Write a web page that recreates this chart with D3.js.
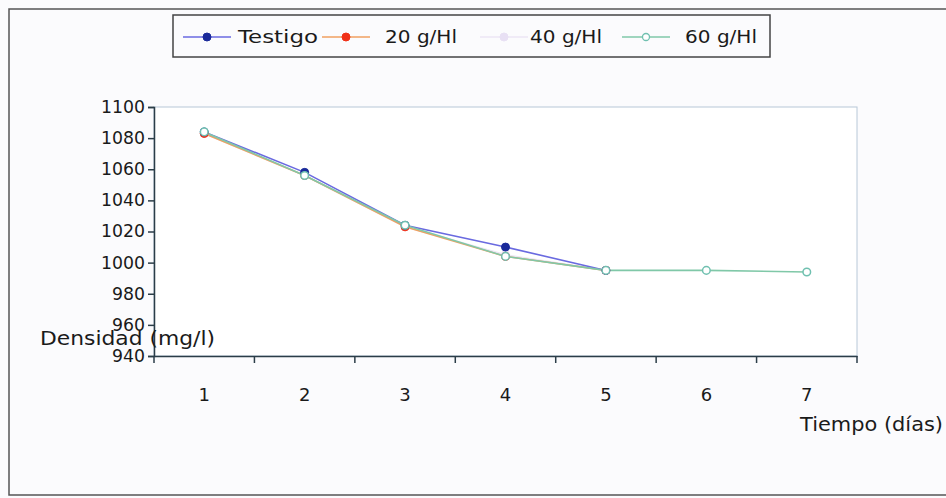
<!DOCTYPE html>
<html><head><meta charset="utf-8">
<script src="https://cdn.jsdelivr.net/npm/d3@7"></script>
<style>
body{margin:0;background:#fbfbfd;}
svg{display:block;}
text{font-family:"Comic Sans MS","DejaVu Sans",sans-serif;fill:#1a1a1a;}
</style></head>
<body><svg id="c" width="946" height="498"></svg>
<script>
const days = ["1","2","3","4","5","6","7"];
const seriesNames = ["Testigo","20 g/Hl","40 g/Hl","60 g/Hl"];
const testigo = [1084, 1058, 1024, 1010, 995];
const g20 = [1083, 1056, 1023, 1004, 995];
const g40 = [1083, 1056, 1023, 1005, 995];
const g60 = [1084, 1056, 1024, 1004, 995, 995, 994];
const yTicks = [940,960,980,1000,1020,1040,1060,1080,1100];

const svg = d3.select("#c");
const m = {l:154, t:107, r:857, b:356};

// outer frame
svg.append("rect").attr("x",9).attr("y",9).attr("width",945).attr("height",486)
  .attr("fill","#fbfbfd").attr("stroke","#555").attr("stroke-width",1.5);
// plot area
svg.append("rect").attr("x",m.l).attr("y",m.t).attr("width",m.r-m.l).attr("height",m.b-m.t)
  .attr("fill","#ffffff").attr("stroke","#b8c8d8").attr("stroke-width",1);

const x = d3.scaleBand().domain(days).range([m.l,m.r]);
const y = d3.scaleLinear().domain([940,1100]).range([m.b,m.t]);

// y axis
const ya = svg.append("g").attr("transform",`translate(${m.l},0)`)
  .call(d3.axisLeft(y).tickValues(yTicks).tickSize(6).tickPadding(3).tickFormat(d3.format("d")));
ya.select(".domain").attr("stroke","#2b3d48").attr("stroke-width",1.5);
ya.selectAll(".tick line").attr("stroke","#2b3d48").attr("stroke-width",1.5);
ya.selectAll("text").style("font-size","17px").attr("fill","#1a1a1a").attr("textLength",44).attr("lengthAdjust","spacingAndGlyphs");
ya.selectAll(".tick").filter(d=>d<1000).selectAll("text").attr("textLength",33);

// x axis
const xa = svg.append("g").attr("transform",`translate(0,${m.b})`)
  .call(d3.axisBottom(x).tickSize(0).tickPadding(32));
xa.select(".domain").attr("stroke","#2b3d48").attr("stroke-width",1.5);
xa.selectAll("text").style("font-size","18px").attr("fill","#1a1a1a");
// category boundary ticks
const bounds = days.map(d => x(d)).concat([m.r]);
svg.append("g").selectAll("line").data(bounds).join("line")
  .attr("x1",d=>d).attr("x2",d=>d).attr("y1",m.b).attr("y2",m.b+7)
  .attr("stroke","#2b3d48").attr("stroke-width",1.5);

// axis titles
svg.append("text").attr("x",40).attr("y",345).style("font-size","19px")
  .attr("textLength",175).attr("lengthAdjust","spacingAndGlyphs").text("Densidad (mg/l)");
svg.append("text").attr("x",943).attr("y",431).attr("text-anchor","end").style("font-size","19px")
  .attr("textLength",143).attr("lengthAdjust","spacingAndGlyphs").text("Tiempo (días)");

const series = [
  {name:seriesNames[0], vals:testigo, line:"#6a6ae0", mark:"#1a2a9a", hollow:false},
  {name:seriesNames[1], vals:g20, line:"#f0a060", mark:"#f03018", hollow:false},
  {name:seriesNames[2], vals:g40, line:"#ece6f4", mark:"#e8e0f4", hollow:false},
  {name:seriesNames[3], vals:g60, line:"#80c8a8", mark:"#70c0b0", hollow:true}
];
const cx = i => x(days[i]) + x.bandwidth()/2;
const lineGen = d3.line().x((d,i)=>cx(i)).y(d=>y(d));
const order = [2,1,0,3];
order.forEach(k=>{
  const s = series[k];
  svg.append("path").datum(s.vals).attr("d",lineGen).attr("fill","none")
    .attr("stroke",s.line).attr("stroke-width",1.6);
});
order.forEach(k=>{
  const s = series[k];
  svg.append("g").selectAll("circle").data(s.vals).join("circle")
    .attr("cx",(d,i)=>cx(i)).attr("cy",d=>y(d)).attr("r",s.hollow?3.8:4)
    .attr("fill",s.hollow?"#ffffff":s.mark).attr("stroke",s.mark).attr("stroke-width",s.hollow?1.5:1);
});

// legend
const lg = svg.append("g");
lg.append("rect").attr("x",173).attr("y",15).attr("width",597).attr("height",42)
  .attr("fill","#fbfbfd").attr("stroke","#444").attr("stroke-width",1.5);
const lx = [183, 322, 480, 622];
const lw = [80, 72, 72, 72];
series.forEach((s,i)=>{
  const g = lg.append("g").attr("transform",`translate(${lx[i]},37)`);
  g.append("line").attr("x1",0).attr("x2",48).attr("y1",0).attr("y2",0).attr("stroke",s.line).attr("stroke-width",1.6);
  g.append("circle").attr("cx",24).attr("cy",0).attr("r",s.hollow?3.5:4)
    .attr("fill",s.hollow?"#fff":s.mark).attr("stroke",s.mark).attr("stroke-width",s.hollow?1.3:1);
  g.append("text").attr("x",i===2?50:i===0?55:63).attr("y",6).style("font-size","18px")
    .attr("textLength",lw[i]).attr("lengthAdjust","spacingAndGlyphs").text(s.name);
});
</script></body></html>
